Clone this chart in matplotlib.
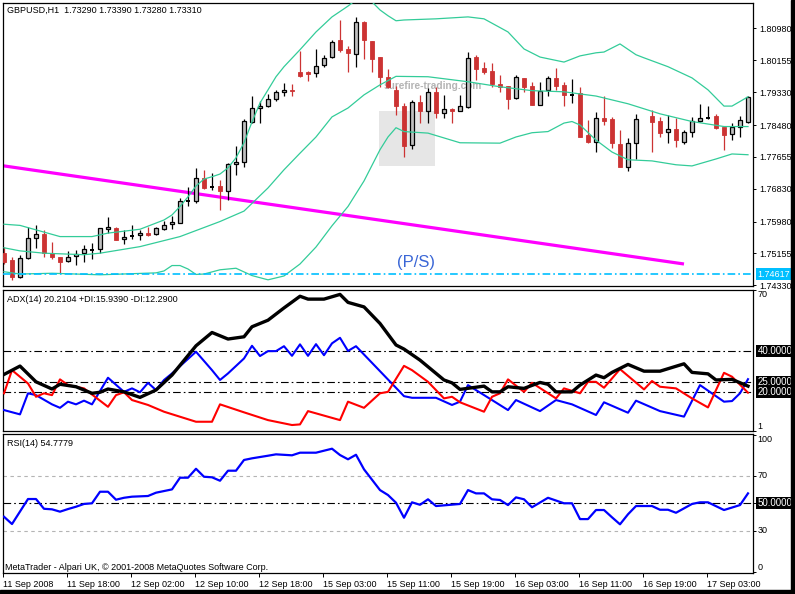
import numpy as np
import matplotlib.pyplot as plt
from matplotlib.patches import Rectangle

plt.rcParams['font.family'] = ['Liberation Sans', 'DejaVu Sans']
plt.rcParams['lines.scale_dashes'] = False

# ---------------------------------------------------------------
# GBPUSD H1 candles (bar index 0 = 11 Sep 2008 10:00), nan = no bar
nan = np.nan
opens = [1.7516, 1.7499, 1.7454, 1.7503, 1.7555, 1.7566, 1.7516, 1.7507, 1.7495, 1.7508,
         1.7516, 1.7525, 1.7526, 1.7578, 1.7582, 1.7552, 1.7561, 1.7562, 1.7568, 1.7565,
         1.7578, 1.7591, 1.7594, 1.7651, 1.7650, 1.7710, 1.7688, 1.7690, 1.7678, 1.7747,
         1.7751, 1.7857, 1.7891, 1.7897, 1.7915, 1.7933, 1.7938, 1.7984, 1.7984, 1.7982,
         1.8003, 1.8024, 1.8068, 1.8044, 1.8031, 1.8115, 1.8066, 1.8024, 1.7972, 1.7939,
         1.7896, 1.7795, 1.7908, 1.7883, 1.7933, 1.7879, 1.7889, 1.7883, 1.7894, 1.8025,
         1.7996, 1.7988, 1.7954, 1.7949, 1.7917, 1.7969, 1.7949, 1.7900, 1.7939, 1.7970,
         1.7952, 1.7927, 1.7932, 1.7822, 1.7805, 1.7866, 1.7864, 1.7799, 1.7740, 1.7801,
         nan, 1.7872, 1.7859, 1.7831, 1.7837, 1.7805, 1.7831, 1.7859, 1.7866, 1.7872,
         1.7842, 1.7824, 1.7844, 1.7857]
highs = [1.7532, 1.7507, 1.7511, 1.7583, 1.7589, 1.7576, 1.7546, 1.7507, 1.7521, 1.7525,
         1.7537, 1.7542, 1.7581, 1.7609, 1.7583, 1.7576, 1.7588, 1.7576, 1.7583, 1.7583,
         1.7600, 1.7613, 1.7659, 1.7688, 1.7736, 1.7732, 1.7723, 1.7706, 1.7749, 1.7794,
         1.7863, 1.7923, 1.7911, 1.7928, 1.7939, 1.7958, 1.7954, 1.8040, 1.7988, 1.8044,
         1.8030, 1.8068, 1.8120, 1.8053, 1.8129, 1.8118, 1.8066, 1.8024, 1.7993, 1.7949,
         1.7904, 1.7913, 1.7926, 1.7943, 1.7947, 1.7926, 1.7892, 1.7926, 1.8036, 1.8030,
         1.8012, 1.8008, 1.7978, 1.7949, 1.7978, 1.7969, 1.7960, 1.7960, 1.7975, 1.7995,
         1.7960, 1.7967, 1.7947, 1.7861, 1.7882, 1.7923, 1.7870, 1.7834, 1.7814, 1.7877,
         nan, 1.7887, 1.7870, 1.7874, 1.7866, 1.7834, 1.7870, 1.7903, 1.7897, 1.7876,
         1.7842, 1.7854, 1.7872, 1.7923]
lows = [1.7488, 1.7447, 1.7451, 1.7500, 1.7529, 1.7506, 1.7502, 1.7464, 1.7492, 1.7486,
        1.7492, 1.7500, 1.7516, 1.7568, 1.7549, 1.7540, 1.7552, 1.7550, 1.7561, 1.7563,
        1.7576, 1.7578, 1.7594, 1.7637, 1.7647, 1.7683, 1.7680, 1.7628, 1.7654, 1.7719,
        1.7740, 1.7853, 1.7854, 1.7895, 1.7911, 1.7924, 1.7922, 1.7972, 1.7962, 1.7972,
        1.7999, 1.8021, 1.8038, 1.7986, 1.7999, 1.8018, 1.7984, 1.7947, 1.7943, 1.7874,
        1.7764, 1.7785, 1.7853, 1.7853, 1.7866, 1.7866, 1.7853, 1.7883, 1.7892, 1.7965,
        1.7980, 1.7946, 1.7933, 1.7889, 1.7916, 1.7933, 1.7900, 1.7900, 1.7924, 1.7939,
        1.7897, 1.7904, 1.7816, 1.7801, 1.7779, 1.7848, 1.7788, 1.7739, 1.7730, 1.7760,
        nan, 1.7777, 1.7818, 1.7802, 1.7790, 1.7798, 1.7818, 1.7856, 1.7864, 1.7837,
        1.7783, 1.7809, 1.7818, 1.7853]
closes = [1.7494, 1.7455, 1.7503, 1.7555, 1.7565, 1.7516, 1.7505, 1.7492, 1.7506, 1.7514,
          1.7526, 1.7525, 1.7581, 1.7583, 1.7550, 1.7558, 1.7561, 1.7568, 1.7563, 1.7582,
          1.7588, 1.7597, 1.7651, 1.7651, 1.7710, 1.7684, 1.7688, 1.7678, 1.7747, 1.7753,
          1.7859, 1.7892, 1.7897, 1.7915, 1.7933, 1.7939, 1.7936, 1.7975, 1.7980, 1.8001,
          1.8021, 1.8063, 1.8041, 1.8034, 1.8115, 1.8067, 1.8020, 1.7973, 1.7946, 1.7896,
          1.7794, 1.7907, 1.7883, 1.7933, 1.7879, 1.7889, 1.7883, 1.7896, 1.8021, 1.7993,
          1.7984, 1.7954, 1.7946, 1.7915, 1.7972, 1.7947, 1.7900, 1.7936, 1.7970, 1.7950,
          1.7926, 1.7927, 1.7818, 1.7805, 1.7866, 1.7859, 1.7801, 1.7739, 1.7802, 1.7863,
          nan, 1.7857, 1.7828, 1.7837, 1.7808, 1.7831, 1.7859, 1.7866, 1.7866, 1.7841,
          1.7823, 1.7842, 1.7861, 1.7920]

# Bollinger bands (bar index, price)
bb_up_x = [0, 2, 7, 11, 13, 17, 20, 21, 22, 23, 24, 25, 26, 27, 28, 29, 30, 31, 32, 33,
           34, 35, 37, 39, 41, 43, 44, 45, 46, 47, 48, 49, 50, 54, 58, 60, 63, 65, 67, 70,
           72, 74, 75, 77, 79, 80, 83, 86, 88, 90, 91, 93]
bb_up = [1.7591, 1.7588, 1.7559, 1.7559, 1.7568, 1.7578, 1.7602, 1.7615, 1.7637, 1.7662,
         1.7690, 1.7708, 1.7714, 1.7721, 1.7737, 1.7763, 1.7802, 1.7856, 1.7905, 1.7939,
         1.7973, 1.7999, 1.8043, 1.8089, 1.8128, 1.8156, 1.8172, 1.8180, 1.8167, 1.8146,
         1.8131, 1.8118, 1.8120, 1.8123, 1.8128, 1.8123, 1.8089, 1.8045, 1.8024, 1.8011,
         1.8027, 1.8035, 1.8037, 1.8058, 1.8030, 1.8022, 1.7999, 1.7970, 1.7939, 1.7897,
         1.7897, 1.7921]
bb_mid_x = [0, 2, 5, 10, 12, 17, 22, 27, 30, 33, 35, 37, 39, 41, 43, 45, 47, 49, 53, 58,
            62, 66, 70, 74, 78, 82, 86, 90, 93]
bb_mid = [1.7530, 1.7522, 1.7516, 1.7512, 1.7516, 1.7533, 1.7559, 1.7598, 1.7625, 1.7685,
          1.7732, 1.7775, 1.7817, 1.7869, 1.7892, 1.7926, 1.7952, 1.7974, 1.7973, 1.7960,
          1.7947, 1.7937, 1.7934, 1.7923, 1.7903, 1.7877, 1.7857, 1.7844, 1.7844]
bb_lo_x = [0, 2, 6, 12, 19, 20, 21, 22, 23, 24, 25, 27, 29, 31, 33, 35, 37, 39, 41, 43,
           45, 47, 48, 49, 50, 53, 57, 62, 64, 66, 68, 70, 71, 72, 74, 76, 78, 81, 84, 86,
           89, 91, 93]
bb_lo = [1.7468, 1.7462, 1.7464, 1.7460, 1.7465, 1.7470, 1.7484, 1.7484, 1.7475, 1.7461,
         1.7462, 1.7473, 1.7477, 1.7458, 1.7447, 1.7457, 1.7488, 1.7532, 1.7587, 1.7637,
         1.7703, 1.7784, 1.7817, 1.7841, 1.7831, 1.7827, 1.7802, 1.7801, 1.7817, 1.7828,
         1.7831, 1.7853, 1.7857, 1.7848, 1.7809, 1.7778, 1.7758, 1.7755, 1.7745, 1.7742,
         1.7760, 1.7773, 1.7771]

# trend line, level line, marked box
trend_x = [-1, 85]
trend_y = [1.7745, 1.7488]
level_price = 1.74617
box_x = [46.9, 53.9]
box_y = [1.7742, 1.7884]
price_ticks = [1.80980, 1.80155, 1.79330, 1.78480, 1.77655, 1.76830, 1.75980, 1.75155, 1.74330]

# ADX(14)
adx_x = [0, 2, 4, 6, 7, 9, 11, 12, 13, 15, 17, 19, 21, 24, 26, 28, 30, 31, 33, 35,
         37, 38, 40, 42, 43, 45, 47, 49, 50, 52, 55, 56, 57, 60, 61, 62, 63, 65, 67, 68,
         69, 71, 72, 74, 75, 76, 78, 80, 82, 85, 86, 88, 89, 91, 93]
adx = [28.6, 32.7, 25.0, 21.5, 23.8, 22.6, 19.4, 19.9, 21.5, 20.1, 17.4, 21.0, 28.3, 42.6,
       49.1, 45.9, 47.0, 51.9, 55.1, 61.1, 66.8, 65.4, 65.4, 67.7, 63.8, 61.6, 53.5, 43.0,
       41.0, 35.6, 25.9, 24.5, 21.3, 22.9, 20.1, 20.1, 22.6, 21.8, 24.7, 23.8, 20.1, 20.1,
       23.4, 28.3, 27.0, 29.6, 33.5, 30.2, 30.2, 33.8, 29.6, 28.9, 25.9, 26.2, 22.9]
pdi_x = [0, 2, 3, 4, 6, 7, 8, 9, 10, 11, 13, 15, 16, 17, 18, 19, 20, 21, 24, 26,
         27, 28, 30, 31, 32, 33, 34, 35, 36, 37, 38, 39, 40, 41, 42, 43, 44, 50, 51, 54,
         56, 57, 58, 61, 63, 64, 67, 69, 71, 74, 75, 78, 79, 82, 85, 87, 90, 91, 92, 93]
pdi = [11.2, 9.1, 19.4, 18.5, 14.0, 12.3, 15.3, 14.0, 15.8, 14.0, 27.0, 20.1, 21.8, 19.9,
       24.5, 21.0, 25.9, 29.1, 39.7, 30.7, 25.9, 29.1, 36.4, 42.6, 37.6, 40.0, 40.0, 42.4,
       37.7, 43.3, 37.7, 43.4, 38.0, 43.8, 46.5, 40.1, 42.4, 18.0, 17.2, 17.2, 13.7, 15.3,
       23.4, 16.1, 11.2, 16.1, 10.7, 16.1, 14.0, 8.8, 15.0, 9.9, 15.8, 10.7, 8.0, 23.4,
       15.3, 15.6, 19.4, 26.3]
mdi_x = [0, 1, 3, 4, 5, 6, 7, 8, 10, 13, 14, 15, 16, 18, 20, 24, 26, 27, 30, 33,
         36, 37, 38, 42, 43, 45, 47, 48, 50, 51, 53, 55, 56, 57, 60, 61, 62, 63, 65, 66,
         69, 70, 72, 73, 74, 75, 77, 80, 81, 82, 84, 86, 88, 90, 91, 93]
mdi = [19.4, 30.7, 24.2, 17.7, 19.4, 18.5, 26.2, 23.4, 21.8, 12.8, 18.5, 19.9, 16.1, 13.7,
       10.4, 5.5, 5.5, 14.0, 10.1, 6.3, 3.9, 4.2, 10.7, 6.3, 15.3, 12.3, 19.4, 20.1, 32.8,
       30.7, 25.0, 16.9, 17.7, 15.0, 10.4, 17.7, 19.4, 26.2, 20.1, 24.5, 16.9, 21.8, 19.4,
       25.0, 25.0, 22.1, 31.2, 21.3, 25.4, 22.6, 21.8, 16.9, 12.5, 29.4, 27.5, 19.7]
adx_levels = [40, 25, 20]

# RSI(14)
rsi_x = [0, 1, 3, 4, 5, 6, 7, 8, 9, 10, 11, 12, 13, 14, 15, 16, 18, 19, 21, 22,
         23, 24, 25, 26, 27, 28, 29, 30, 31, 33, 34, 36, 37, 39, 41, 42, 43, 44, 45, 47,
         48, 49, 50, 51, 52, 53, 54, 55, 57, 58, 59, 60, 61, 62, 63, 64, 65, 66, 68, 70,
         71, 72, 73, 74, 75, 76, 77, 78, 79, 81, 82, 83, 84, 85, 86, 87, 88, 90, 92, 93]
rsi = [40.2, 34.9, 53.1, 53.1, 46.0, 45.6, 43.9, 45.8, 47.5, 49.5, 50.0, 58.4, 58.4, 52.6,
       54.0, 54.8, 55.3, 57.7, 60.1, 68.6, 68.6, 75.1, 69.3, 68.9, 66.4, 73.7, 73.7, 81.5,
       82.7, 84.6, 85.6, 84.9, 86.8, 86.8, 89.7, 85.1, 82.0, 85.3, 74.7, 59.6, 56.0, 50.4,
       39.5, 50.7, 48.9, 52.9, 48.0, 48.5, 49.5, 59.6, 57.2, 57.2, 52.9, 52.4, 48.7, 54.3,
       52.9, 47.1, 54.0, 50.0, 50.0, 38.5, 38.5, 45.1, 45.1, 39.8, 34.7, 42.0, 48.0, 48.0,
       45.3, 45.3, 43.1, 46.3, 49.5, 50.7, 50.7, 45.1, 48.7, 57.2]

time_pos = [0, 8, 16, 24, 32, 40, 48, 56, 64, 72, 80, 88]
time_labels = ['11 Sep 2008', '11 Sep 18:00', '12 Sep 02:00', '12 Sep 10:00', '12 Sep 18:00',
               '15 Sep 03:00', '15 Sep 11:00', '15 Sep 19:00', '16 Sep 03:00', '16 Sep 11:00',
               '16 Sep 19:00', '17 Sep 03:00']

# ---------------------------------------------------------------
W, H = 795, 594
fig = plt.figure(figsize=(W / 100, H / 100), dpi=100)
FS = 6.5
DASHDOT = (0, (5.5, 2.2, 1.2, 2.2))


def px_box(x0, y0, x1, y1):
    return [x0 / W, 1 - y1 / H, (x1 - x0) / W, (y1 - y0) / H]


def ptext(x, y, s, **kw):
    fig.text(x / W, 1 - y / H, s, fontsize=FS, **kw)


ax = fig.add_axes(px_box(3, 3, 753, 286))
ax_adx = fig.add_axes(px_box(3, 289.7, 753, 431))
ax_rsi = fig.add_axes(px_box(3, 434, 753, 572.7))

for a in (ax, ax_adx, ax_rsi):
    a.set_xlim(-0.125, 93.625)
    a.set_xticks([])
    a.tick_params(axis='y', left=False, right=True, labelleft=False, labelright=False,
                  length=2.5, width=0.7, direction='out', labelsize=FS, pad=2)
    for s in a.spines.values():
        s.set_linewidth(0.9)

# main price panel
ax.set_ylim(1.7431, 1.8164)
ax.set_yticks(price_ticks)
ax.set_yticklabels(['%.5f' % p for p in price_ticks])
ax.tick_params(axis='y', labelright=True)

ax.add_patch(Rectangle((box_x[0], box_y[0]), box_x[1] - box_x[0], box_y[1] - box_y[0],
                       facecolor='#e6e6e6', edgecolor='none', zorder=0.5))
ax.text(47.4, 1.7949, 'surefire-trading.com', color='#b4b4b4', fontsize=7.3,
        fontweight='bold', va='center', ha='left', zorder=1)
ax.plot(trend_x, trend_y, color='#ff00ff', lw=2.3, solid_capstyle='butt', zorder=1.5)

for i in range(len(opens)):
    o, hi, lo, c = opens[i], highs[i], lows[i], closes[i]
    if np.isnan(o):
        continue
    if c > o:
        ax.vlines(i, lo, hi, color='black', lw=0.9, zorder=2)
        ax.bar(i, c - o, bottom=o, width=0.62, facecolor='#c0c0c0', edgecolor='black',
               lw=0.9, zorder=3)
    elif c < o:
        ax.vlines(i, lo, hi, color='#cc3333', lw=0.9, zorder=2)
        ax.bar(i, o - c, bottom=c, width=0.62, facecolor='#cc3333', edgecolor='#cc3333',
               lw=0.6, zorder=3)
    else:
        ax.vlines(i, lo, hi, color='black', lw=0.9, zorder=2)
        ax.hlines(o, i - 0.31, i + 0.31, color='black', lw=1.4, zorder=3)

band_col = '#33cc99'
ax.plot(bb_up_x, bb_up, color=band_col, lw=0.9, zorder=4)
ax.plot(bb_mid_x, bb_mid, color=band_col, lw=0.9, zorder=4)
ax.plot(bb_lo_x, bb_lo, color=band_col, lw=0.9, zorder=4)

ax.axhline(level_price, color='#00bfff', lw=1.2, ls=DASHDOT, zorder=4)
ax.text(1.006, level_price, '%.5f' % level_price, transform=ax.get_yaxis_transform(),
        color='white', fontsize=FS, va='center', ha='left', clip_on=False,
        bbox=dict(boxstyle='square,pad=0.15', fc='#00bfff', ec='none'))
ax.text(49.1, 1.7493, '(P/S)', color='#3a66d6', fontsize=12, va='center', ha='left', zorder=6)

# ADX panel
ax_adx.set_ylim(0.98, 69.9)
ax_adx.set_yticks([70, 1])
for lv in adx_levels:
    ax_adx.axhline(lv, color='black', lw=0.8, ls=DASHDOT, zorder=1)
    ax_adx.text(1.006, lv, '%.5f' % lv, transform=ax_adx.get_yaxis_transform(),
                color='white', fontsize=FS + 0.5, va='center', ha='left', clip_on=False,
                bbox=dict(boxstyle='square,pad=0.12', fc='black', ec='none'))
ax_adx.text(1.006, 70, '70', transform=ax_adx.get_yaxis_transform(), fontsize=FS,
            va='top', ha='left', clip_on=False)
ax_adx.text(1.006, 1, '1', transform=ax_adx.get_yaxis_transform(), fontsize=FS,
            va='bottom', ha='left', clip_on=False)
ax_adx.plot(pdi_x, pdi, color='#0000ff', lw=1.5, zorder=3)
ax_adx.plot(mdi_x, mdi, color='#ff0000', lw=1.5, zorder=3)
ax_adx.plot(adx_x, adx, color='black', lw=2.4, zorder=4)

# RSI panel
ax_rsi.set_ylim(-0.5, 100.4)
ax_rsi.set_yticks([100, 70, 50, 30, 0])
for lv in (70, 30):
    ax_rsi.axhline(lv, color='#b4b4b4', lw=0.8, ls=(0, (2.5, 2.5)), zorder=1)
ax_rsi.axhline(50, color='black', lw=0.8, ls=DASHDOT, zorder=1)
tr = ax_rsi.get_yaxis_transform()
ax_rsi.text(1.006, 100, '100', transform=tr, fontsize=FS, va='top', ha='left', clip_on=False)
ax_rsi.text(1.006, 70, '70', transform=tr, fontsize=FS, va='center', ha='left', clip_on=False)
ax_rsi.text(1.006, 30, '30', transform=tr, fontsize=FS, va='center', ha='left', clip_on=False)
ax_rsi.text(1.006, 0, '0', transform=tr, fontsize=FS, va='bottom', ha='left', clip_on=False)
ax_rsi.text(1.006, 50, '50.00000', transform=tr, color='white', fontsize=FS + 0.5,
            va='center', ha='left', clip_on=False,
            bbox=dict(boxstyle='square,pad=0.12', fc='black', ec='none'))
ax_rsi.plot(rsi_x, rsi, color='#0000ff', lw=1.6, zorder=3)

ax_rsi.set_xticks([p - 0.12 for p in time_pos])
ax_rsi.set_xticklabels(time_labels, ha='left')
ax_rsi.tick_params(axis='x', bottom=True, length=3, width=0.7, direction='out',
                   labelsize=FS, pad=2.5)

# header texts
ptext(7, 10, 'GBPUSD,H1  1.73290 1.73390 1.73280 1.73310', va='center', ha='left')
ptext(7, 300, 'ADX(14) 20.2104 +DI:15.9390 -DI:12.2900', va='center', ha='left')
ptext(7, 444, 'RSI(14) 54.7779', va='center', ha='left')
ptext(5, 567, 'MetaTrader - Alpari UK, \u00a9 2001-2008 MetaQuotes Software Corp.',
      va='center', ha='left')

# window frame strips
fig.patches.append(Rectangle((791 / W, 0), 4 / W, 1, transform=fig.transFigure,
                             color='black', zorder=10))
fig.patches.append(Rectangle((0, 0), 1, 4 / H, transform=fig.transFigure,
                             color='black', zorder=10))

fig.savefig('out.png', dpi=100)
